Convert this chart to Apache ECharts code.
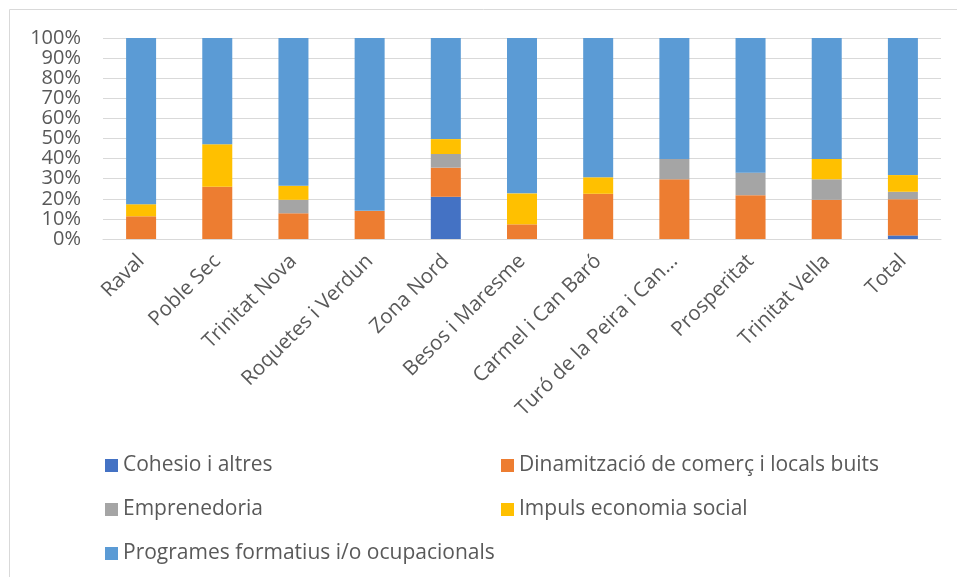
<!DOCTYPE html>
<html>
  <head>
    <meta charset="utf-8" />
    <title>ECharts</title>
    <script src="https://cdn.jsdelivr.net/npm/echarts@6/dist/echarts.min.js"></script>
    <style>
      html, body { margin: 0; padding: 0; background: #fff; }
    </style>
  </head>
  <body>
    <div id="main" style="width: 957px;height:577px;"></div>
    <script type="text/javascript">
      // barris
      var barris = ['Raval', 'Poble Sec', 'Trinitat Nova', 'Roquetes i Verdun', 'Zona Nord',
        'Besos i Maresme', 'Carmel i Can Baró', 'Turó de la Peira i Can...', 'Prosperitat',
        'Trinitat Vella', 'Total'];
      // percentatges per tipus (llegits del gràfic)
      var cohesio = [0, 0, 0, 0, 21, 0, 0, 0, 0, 0, 1.8];
      var dinamitzacio = [11.3, 26, 12.8, 14, 14.5, 7.3, 22.5, 29.7, 21.8, 19.5, 18];
      var emprenedoria = [0, 0, 6.7, 0, 6.8, 0, 0, 10.1, 11.2, 10.2, 3.7];
      var impuls = [6, 21.2, 7, 0, 7.4, 15.4, 8.2, 0, 0, 10.1, 8.3];
      var programes = [82.7, 52.8, 73.5, 86, 50.3, 77.3, 69.3, 60.2, 67, 60.2, 68.2];

      var noms = ['Cohesio i altres', 'Dinamització de comerç i locals buits', 'Emprenedoria',
        'Impuls economia social', 'Programes formatius i/o ocupacionals'];
      var colors = ['#4472C4', '#ED7D31', '#A5A5A5', '#FFC000', '#5B9BD5'];
      var valors = [cohesio, dinamitzacio, emprenedoria, impuls, programes];

      var font = 'Open Sans';
      var textColor = '#595959';

      var series = [];
      for (var i = 0; i < noms.length; i++) {
        series.push({
          type: 'bar',
          name: noms[i],
          stack: 'total',
          barWidth: 30,
          data: valors[i],
          itemStyle: { color: colors[i] }
        });
      }

      var legendStyle = {
        orient: 'vertical',
        icon: 'rect',
        itemWidth: 13,
        itemHeight: 13,
        itemGap: 23,
        textStyle: { color: textColor, fontSize: 21, fontFamily: font }
      };

      var myChart = echarts.init(document.getElementById('main'));
      var option = {
        color: colors,
        animation: false,
        graphic: [{
          type: 'rect',
          shape: { x: 9.5, y: 9.5, width: 970, height: 600 },
          style: { fill: 'none', stroke: '#d9d9d9', lineWidth: 1 }
        }],
        grid: {
          left: 103,
          right: 16,
          top: 38,
          bottom: 338
        },
        legend: [
          Object.assign({ left: 100, top: 450, data: [noms[0], noms[2], noms[4]] }, legendStyle),
          Object.assign({ left: 496, top: 450, data: [noms[1], noms[3]] }, legendStyle)
        ],
        xAxis: {
          type: 'category',
          data: barris,
          axisTick: { show: false },
          axisLine: { lineStyle: { color: '#d9d9d9', width: 1 } },
          axisLabel: {
            interval: 0,
            rotate: 45,
            margin: 19,
            color: textColor,
            fontSize: 20.5,
            fontFamily: font
          }
        },
        yAxis: {
          type: 'value',
          min: 0,
          max: 100,
          interval: 10,
          axisLine: { show: false },
          axisTick: { show: false },
          splitLine: { lineStyle: { color: '#d9d9d9', width: 1 } },
          axisLabel: {
            formatter: '{value}%',
            margin: 22,
            showMinLabel: true,
            showMaxLabel: true,
            color: textColor,
            fontSize: 20,
            fontFamily: font
          }
        },
        series: series
      };
      myChart.setOption(option);
    </script>
  </body>
</html>
